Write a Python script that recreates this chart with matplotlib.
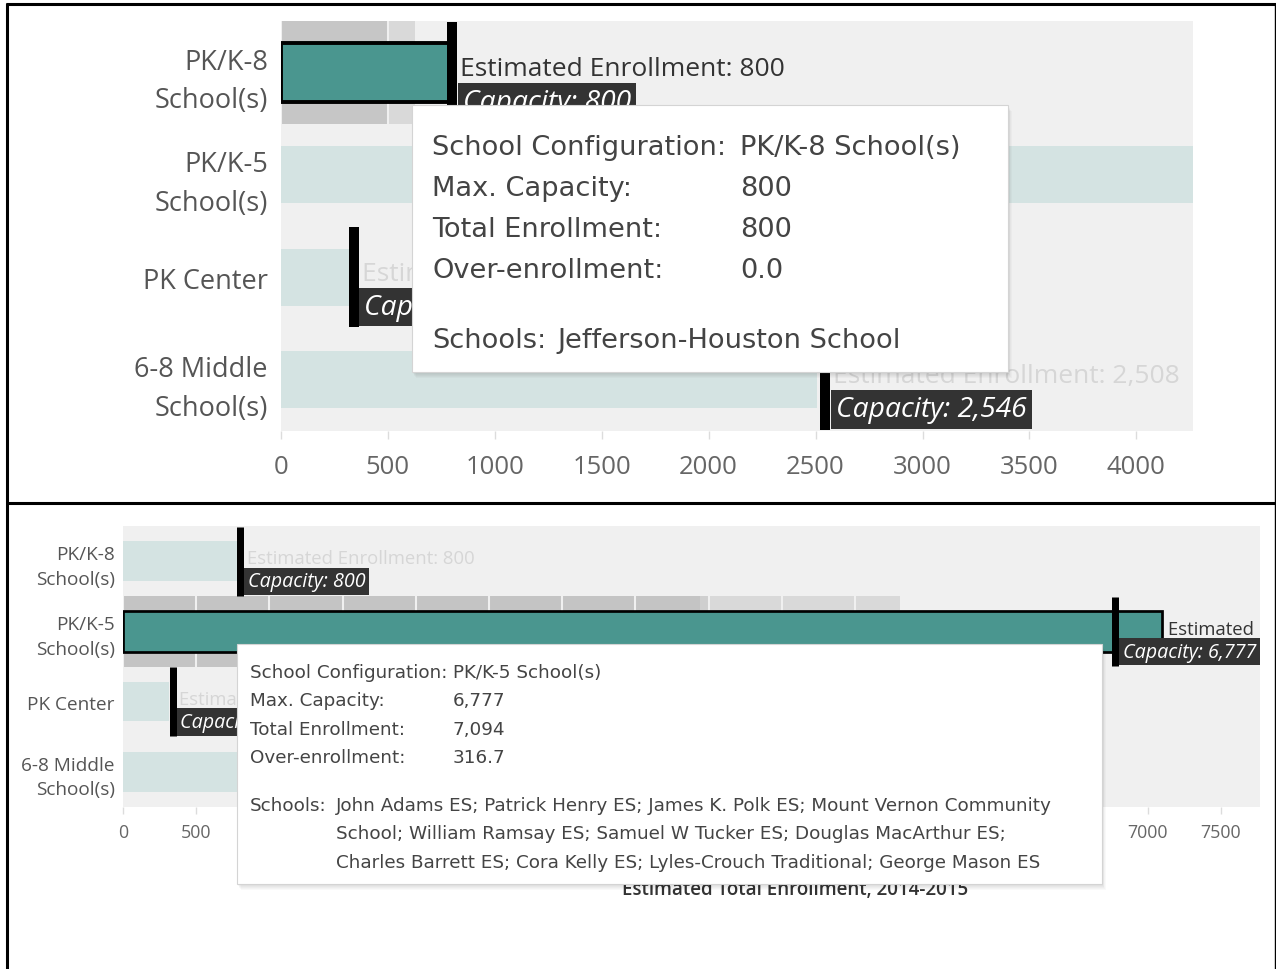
import matplotlib
matplotlib.use("Agg")
import matplotlib.pyplot as plt
from matplotlib.patches import Rectangle
from matplotlib.transforms import offset_copy

# School configurations, 2014-2015
configs = ["PK/K-8 School(s)", "PK/K-5 School(s)", "PK Center", "6-8 Middle School(s)"]
row_labels = ["PK/K-8\nSchool(s)", "PK/K-5\nSchool(s)", "PK Center", "6-8 Middle\nSchool(s)"]
capacity = [800, 6777, 340, 2546]
enrollment = [800.0, 7093.7, 316, 2508]

k8_school_lines = ["Jefferson-Houston School"]
k5_school_lines = [
    "John Adams ES; Patrick Henry ES; James K. Polk ES; Mount Vernon Community",
    "School; William Ramsay ES; Samuel W Tucker ES; Douglas MacArthur ES;",
    "Charles Barrett ES; Cora Kelly ES; Lyles-Crouch Traditional; George Mason ES",
]

top_ticks = list(range(0, 4001, 500))
bottom_ticks = list(range(0, 7501, 500))
# hover highlight segments behind the selected row (right ends)
top_band = [500, 625]
bottom_band = [3940, 4000, 5310]

FONT = "Open Sans"
TIP_FONT = "DejaVu Sans"
TEAL = "#4a968f"
LIGHT_TEAL = "#d4e3e2"
BG = "#f0f0f0"

W, H = 1276, 970
fig = plt.figure(figsize=(W / 100, H / 100), dpi=100)


def axes_px(l, t, r, b):
    return fig.add_axes([l / W, 1 - b / H, (r - l) / W, (b - t) / H])


def draw_panel(ax, xmax, ticks, fs, selected, band, band_colors, line_px, ypad, ylinesp, xpad, tick_len):
    ax.set_facecolor(BG)
    ax.set_xlim(0, xmax)
    ax.set_ylim(3.5, -0.5)
    for s in ax.spines.values():
        s.set_visible(False)

    ax.set_xticks(ticks)
    ax.set_xticklabels([str(t) for t in ticks], fontfamily=FONT)
    ax.set_yticks(range(len(row_labels)))
    ax.set_yticklabels(row_labels, fontfamily=FONT)
    ax.tick_params(axis="y", length=0, pad=ypad, labelsize=fs * 1.03, labelcolor="#555555")
    ax.tick_params(axis="x", length=tick_len, width=1, color="#dcdcdc", pad=xpad,
                   labelsize=fs * 0.97, labelcolor="#666666")
    for lbl in ax.get_yticklabels():
        lbl.set_linespacing(ylinesp)
        lbl.set_multialignment("right")

    # highlight band of the hovered row
    start = 0
    for end, col in zip(band, band_colors):
        ax.barh(selected, end - start, left=start, height=1.0, color=col, zorder=1)
        start = end
    for t in ticks:
        ax.axvline(t, color=BG, lw=1.5, zorder=1.5)

    half = line_px / 2
    cap_fs = fs * 1.07
    enr_tr = offset_copy(ax.transData, fig=fig, x=half + 3, y=0, units="dots")
    cap_tr = offset_copy(ax.transData, fig=fig, x=half + 0.2 * cap_fs * 100 / 72, y=0, units="dots")

    for i, (c, e) in enumerate(zip(capacity, enrollment)):
        if i == selected:
            ax.barh(i, e, height=0.58, color=TEAL, edgecolor="black",
                    linewidth=line_px * 0.28, zorder=2)
            enr_col = "#333333"
        else:
            ax.barh(i, e, height=0.56, color=LIGHT_TEAL, zorder=2)
            enr_col = "#d6d6d6"
        ax.vlines(c, i - 0.49, i + 0.49, color="black", lw=line_px * 0.72, zorder=4)

        # labels that start past the end of the axis would be fully clipped
        if max(c, e) > xmax:
            continue
        ax.text(max(c, e), i - 0.04, f"Estimated Enrollment: {e:,.0f}", transform=enr_tr,
                ha="left", va="center", fontsize=fs, color=enr_col, fontfamily=FONT,
                clip_on=True, zorder=5)
        ax.text(c, i + 0.29, f"Capacity: {c:,}", transform=cap_tr, ha="left", va="center",
                fontsize=cap_fs, color="white", style="italic", fontfamily=FONT, clip_on=True,
                zorder=5, bbox=dict(boxstyle="square,pad=0.18", fc="#333333", ec="none"))


ax_top = axes_px(281, 22, 1193, 432)
draw_panel(ax_top, 4265, top_ticks, 19, 0, top_band, ["#c6c6c6", "#d9d9d9"],
           line_px=10, ypad=9.4, ylinesp=1.5, xpad=10.5, tick_len=6)

ax_bot = axes_px(123, 527, 1260, 808)
draw_panel(ax_bot, 7766, bottom_ticks, 13.3, 1, bottom_band, ["#c4c4c4", "#cfcfcf", "#d9d9d9"],
           line_px=7, ypad=5.8, ylinesp=1.47, xpad=6.5, tick_len=5)
ax_bot.set_xlabel("Estimated Total Enrollment, 2014-2015", fontsize=13.5, color="#333333",
                  fontfamily=FONT, fontweight="semibold")
ax_bot.xaxis.set_label_coords((795 - 123) / 1137, -(880 - 808) / 281)

# overlay for tooltips and the frame
ov = fig.add_axes([0, 0, 1, 1])
ov.set_xlim(0, W)
ov.set_ylim(H, 0)
ov.axis("off")
ov.set_zorder(10)


def tooltip(i, box, tx, ty, pitch, col2, fs, school_y, school_x, school_pitch, school_lines):
    x0, y0, x1, y1 = box
    for k in range(1, 7):
        ov.add_patch(Rectangle((x0 + k * 0.6, y0 + k), x1 - x0, y1 - y0,
                               fc="black", ec="none", alpha=0.025))
    ov.add_patch(Rectangle((x0, y0), x1 - x0, y1 - y0, fc="white", ec="#d4d4d4", lw=0.8))
    over = max(enrollment[i] - capacity[i], 0)
    rows = [("School Configuration:", configs[i]),
            ("Max. Capacity:", f"{capacity[i]:,}"),
            ("Total Enrollment:", f"{enrollment[i]:,.0f}"),
            ("Over-enrollment:", f"{over:.1f}")]
    kw = dict(fontsize=fs, color="#444444", fontfamily=TIP_FONT, va="center", ha="left")
    for r, (lab, val) in enumerate(rows):
        ov.text(tx, ty + r * pitch, lab, **kw)
        ov.text(col2, ty + r * pitch, val, **kw)
    ov.text(tx, school_y, "Schools:", **kw)
    for r, line in enumerate(school_lines):
        ov.text(school_x, school_y + r * school_pitch, line, **kw)


tooltip(0, (412, 106, 1008, 373), 432, 148, 41, 740, 19.6, 341, 557, 41, k8_school_lines)
tooltip(1, (237, 645, 1102, 885), 250, 673, 28.3, 453, 13.2, 806, 336, 28.5, k5_school_lines)

# table frame around the two views
ov.plot([7, 7], [4, H], color="black", lw=2.2, solid_capstyle="butt")
ov.plot([6, W], [5, 5], color="black", lw=2.2, solid_capstyle="butt")
ov.plot([6, W], [504, 504], color="black", lw=2.2, solid_capstyle="butt")
ov.plot([1275, 1275], [4, H], color="black", lw=1.0, solid_capstyle="butt")

fig.savefig("out.png", dpi=100)
